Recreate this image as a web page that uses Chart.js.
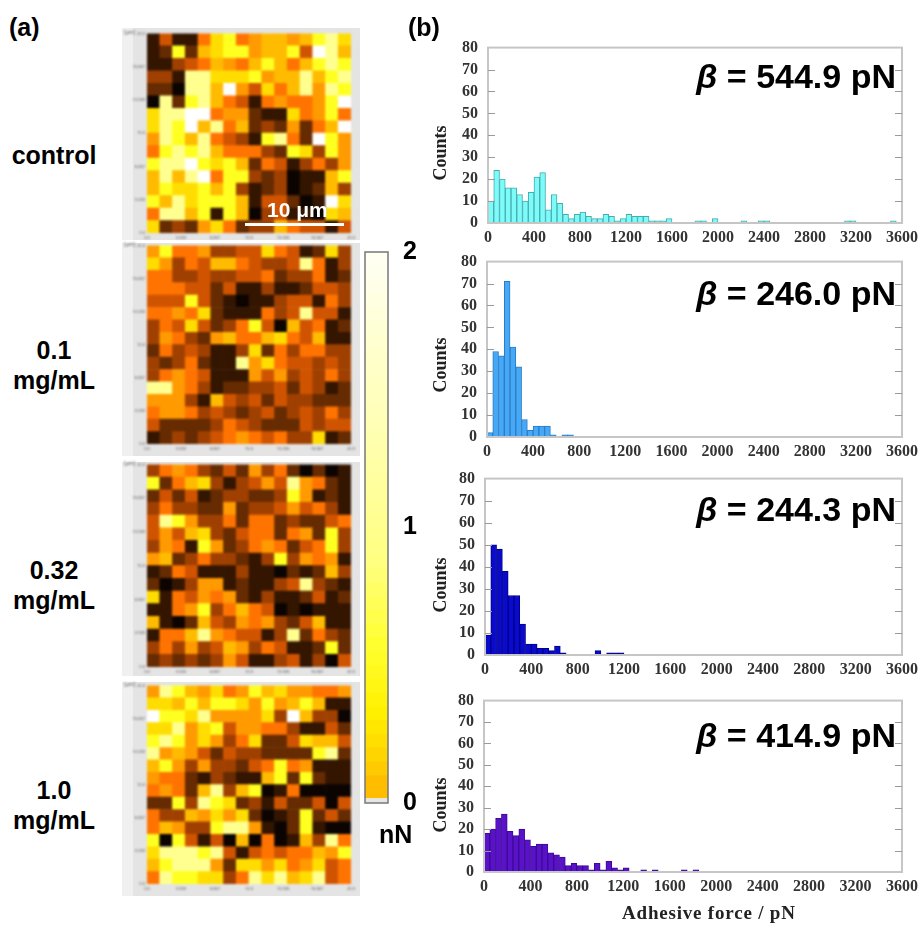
<!DOCTYPE html>
<html>
<head>
<meta charset="utf-8">
<title>Adhesive force maps</title>
<script src="https://cdn.jsdelivr.net/npm/chart.js@4"></script>
<style>
  html, body { margin: 0; background: #fff; }
  body { position: relative; width: 923px; height: 925px; overflow: hidden; filter: blur(0.45px); }
  canvas { position: absolute; }
  .heat { filter: blur(0.8px); }
  .panel { position: absolute; left: 122px; width: 238px; background: #e4e4e4; }
  .panel i { position: absolute; left: 0; top: 0; bottom: 0; width: 11px; background: #f0f0f0; }
  .txt { position: absolute; font-family: "Liberation Sans", Arial, sans-serif; font-weight: bold; color: #000; white-space: nowrap; }
  .cond { font-size: 25px; line-height: 30px; text-align: center; left: 4px; width: 100px; }
  .beta { font-size: 34px; line-height: 38px; right: 27px; }
  .beta em { font-style: italic; }
  .counts { left: 440px; font: bold 18px "Liberation Serif", serif; color: #222; transform: translate(-50%, -50%) rotate(-90deg); }
</style>
</head>
<body>
<div class="panel" style="top:28px;height:212px"><i></i></div>
<div class="panel" style="top:243px;height:213px"><i></i></div>
<div class="panel" style="top:462px;height:214px"><i></i></div>
<div class="panel" style="top:682px;height:214px"><i></i></div>

<!-- the y axis keeps one tick line height above the plot, canvases sit that much higher -->
<canvas id="mapControl" class="heat" width="238" height="211" style="left:122px;top:29px"></canvas>
<canvas id="map01" class="heat" width="238" height="215" style="left:122px;top:241px"></canvas>
<canvas id="map032" class="heat" width="238" height="216" style="left:122px;top:460px"></canvas>
<canvas id="map10" class="heat" width="238" height="215" style="left:122px;top:681px"></canvas>
<canvas id="colorBar" width="70" height="611" style="left:355px;top:222px"></canvas>
<canvas id="hist1" width="493" height="219" style="left:430px;top:28px"></canvas>
<canvas id="hist2" width="493" height="219" style="left:430px;top:242px"></canvas>
<canvas id="hist3" width="493" height="219" style="left:430px;top:459px"></canvas>
<canvas id="hist4" width="493" height="219" style="left:430px;top:681px"></canvas>

<div class="txt" style="left:9px;top:13px;font-size:25px">(a)</div>
<div class="txt" style="left:408px;top:13px;font-size:25px">(b)</div>
<div class="txt cond" style="top:140px">control</div>
<div class="txt cond" style="top:335px">0.1<br>mg/mL</div>
<div class="txt cond" style="top:555px">0.32<br>mg/mL</div>
<div class="txt cond" style="top:775px">1.0<br>mg/mL</div>
<div class="txt" style="left:245px;top:223px;width:99px;height:3px;background:#fff"></div>
<div class="txt" style="left:267px;top:198px;font-size:21px;color:#fff">10 μm</div>
<div class="txt" style="left:379px;top:820px;font-size:25px">nN</div>
<div class="txt beta" style="top:57px"><em>β</em> = 544.9 pN</div>
<div class="txt beta" style="top:274px"><em>β</em> = 246.0 pN</div>
<div class="txt beta" style="top:490px"><em>β</em> = 244.3 pN</div>
<div class="txt beta" style="top:716px"><em>β</em> = 414.9 pN</div>
<div class="txt counts" style="top:153px">Counts</div>
<div class="txt counts" style="top:365px">Counts</div>
<div class="txt counts" style="top:585px">Counts</div>
<div class="txt counts" style="top:805px">Counts</div>
<div class="txt" style="left:622px;top:902px;font:bold 19px 'Liberation Serif',serif;letter-spacing:0.8px;color:#222">Adhesive force / pN</div>

<script>
// force map levels, 0 = 0 nN ... 11 = 2 nN, rows top to bottom
const mapControlRows = [
  [1,4,1,1,5,8,9,5,6,7,7,6,7,9,10,8],
  [1,2,9,2,7,8,9,9,6,7,7,9,4,11,10,7],
  [1,1,3,4,5,7,6,5,7,9,7,5,7,9,10,9],
  [3,3,1,10,10,8,8,8,9,6,7,7,10,7,9,10],
  [2,2,0,10,10,7,11,6,4,8,5,7,10,6,10,9],
  [0,10,2,9,10,7,5,4,1,5,6,5,5,6,9,11],
  [8,10,10,11,11,5,6,6,2,1,1,8,5,6,9,5],
  [8,10,9,11,7,10,5,7,2,3,2,6,2,5,7,11],
  [6,10,9,7,10,5,4,3,1,9,10,5,2,11,9,6],
  [5,9,10,9,10,7,5,5,5,3,2,9,8,3,9,6],
  [9,10,10,11,9,8,9,7,2,5,4,1,3,5,3,6],
  [7,10,7,10,11,5,9,9,3,2,3,0,1,1,7,9],
  [7,9,8,8,9,7,9,3,1,2,3,0,1,2,7,3],
  [9,7,10,8,9,9,9,7,1,4,4,2,0,1,11,8],
  [5,10,10,7,9,1,9,7,0,3,4,1,1,0,8,7],
  [8,2,3,2,6,8,5,2,3,3,7,5,4,4,1,4],
];
const map01Rows = [
  [6,9,5,5,6,3,3,4,4,8,5,4,1,2,8,3],
  [8,6,3,5,4,7,7,5,4,3,3,4,10,5,1,3],
  [5,5,3,3,4,3,3,4,4,5,2,3,3,5,1,2],
  [5,5,5,4,4,2,4,1,1,3,1,1,2,4,4,3],
  [4,4,4,9,4,2,1,0,1,1,3,4,4,1,5,3],
  [5,5,6,5,8,2,1,1,1,5,3,4,10,4,4,1],
  [3,5,4,8,4,2,3,5,9,4,0,7,4,5,1,2],
  [3,6,5,3,2,6,7,5,5,7,8,5,4,7,1,1],
  [2,5,3,4,3,1,1,3,8,2,5,3,5,5,3,3],
  [3,2,3,5,2,1,1,10,6,8,5,4,4,3,4,3],
  [3,5,6,5,4,1,1,1,6,4,6,3,4,3,5,3],
  [10,10,6,5,3,1,2,2,3,3,4,2,4,3,1,2],
  [6,6,6,3,1,7,4,3,4,2,4,3,3,2,2,2],
  [5,6,6,5,3,4,3,2,3,4,2,3,4,3,5,3],
  [4,2,2,2,2,3,5,4,3,2,2,2,4,3,4,4],
  [1,2,3,2,3,4,5,6,5,4,5,3,3,8,1,2],
];
const map032Rows = [
  [3,5,6,5,3,2,4,2,6,3,5,2,0,2,0,1],
  [9,2,5,7,8,3,1,3,4,6,4,10,6,5,2,1],
  [2,4,2,4,1,2,3,3,2,2,3,9,6,1,2,1],
  [3,5,3,3,2,2,6,2,3,3,4,6,4,5,3,1],
  [4,10,9,6,3,3,5,2,5,5,2,3,2,2,4,5],
  [4,6,4,7,8,3,2,4,5,5,2,5,6,2,9,3],
  [3,6,5,1,9,6,2,3,5,6,5,2,4,5,9,3],
  [6,7,2,3,5,3,3,2,1,3,9,3,6,5,6,1],
  [1,2,5,4,1,1,1,3,1,1,0,2,1,2,7,3],
  [2,0,1,3,6,6,1,2,1,1,3,4,10,3,2,1],
  [8,1,5,4,6,5,6,2,1,3,1,1,2,4,1,2],
  [1,1,5,6,9,3,5,7,5,4,0,1,0,1,1,1],
  [7,1,0,2,7,4,3,6,5,6,3,2,4,7,1,1],
  [1,5,5,7,10,6,5,4,4,1,3,10,2,5,3,2],
  [3,5,3,6,3,4,7,6,3,5,4,1,1,2,9,2],
  [2,3,2,3,2,3,6,4,1,1,3,4,1,3,0,4],
];
const map10Rows = [
  [6,10,9,7,6,8,5,6,9,7,8,6,6,5,5,6],
  [8,8,7,9,7,9,9,8,6,9,6,7,9,7,1,1],
  [11,9,9,8,10,6,6,6,6,8,3,11,7,3,3,0],
  [8,8,10,6,8,9,4,6,6,5,5,3,1,1,4,2],
  [9,10,9,6,8,6,3,5,8,2,2,4,8,7,7,4],
  [10,6,7,6,4,2,4,3,3,2,2,2,2,9,10,2],
  [7,9,6,3,6,3,3,2,4,5,9,5,6,1,1,1],
  [6,5,5,2,1,3,2,1,1,7,9,2,9,2,1,1],
  [5,6,5,2,7,10,3,7,9,0,1,5,0,0,0,0],
  [2,2,9,3,10,9,8,2,3,1,4,2,2,4,0,4],
  [5,3,3,7,6,8,6,8,2,0,1,2,9,2,4,2],
  [5,7,6,3,3,9,10,10,6,1,0,2,9,1,0,0],
  [9,0,9,4,1,4,0,7,0,5,0,1,7,3,10,5],
  [8,10,10,10,9,10,4,1,4,5,4,5,5,7,6,9],
  [7,9,10,10,10,6,2,8,8,6,8,5,6,8,4,5],
  [5,10,9,9,8,8,3,5,10,8,10,7,8,10,4,5],
];
const levelColors = ["#0c0400","#331500","#662b00","#a04000","#d05400","#ff7300","#ff9a00","#ffbb00","#ffdd00","#ffff20","#ffff90","#ffffff"];
const mapTicks = [0, 3.333, 6.667, 10, 13.333, 16.667, 20];
const mapTickLabels = ["0.0", "3.333", "6.667", "10.0", "13.333", "16.667", "20.0"];

// adhesive force histograms, counts per 50 pN bin starting at 0
const binWidth = 50;
const countsControl = [10,24,20,16,16,13,10,14,21,23,6,13,9,4,2,4,5,3,2,2,4,3,1,2,4,3,3,3,1,1,1,2,0,0,0,0,1,1,0,2,0,0,0,0,1,0,0,1,1,0,0,0,0,0,0,0,0,0,0,0,0,0,1,1,0,0,0,0,0,0,1,0];
const counts01 = [2,39,37,71,41,32,8,3,5,5,5,1,0,1,1];
const counts032 = [9,50,48,38,27,27,14,5,5,3,3,2,4,1,0,0,0,0,0,2,0,1,1,1];
const counts10 = [18,20,25,27,19,17,20,15,12,13,13,9,8,7,3,4,3,3,1,4,1,5,2,1,2,0,0,1,0,1,0,0,0,0,1,0,1];

const barStops = [[0,"#ffb000"],[0.12,"#ffd000"],[0.3,"#fff000"],[0.55,"#ffff30"],[0.85,"#ffff80"],[1.3,"#ffffb0"],[1.65,"#ffffd0"],[2,"#fffff8"]];
const bandSize = 0.05;

Chart.defaults.animation = false;
Chart.defaults.responsive = false;
Chart.defaults.plugins.legend.display = false;
Chart.defaults.plugins.tooltip.enabled = false;

const cellSize = 20 / 16;

const makeMap = (id, rows, box) => {
  const datasets = rows.slice().reverse().map((row) => ({
    data: row.map((_, c) => ({ x: (c + 0.5) * cellSize, y: cellSize })),
    backgroundColor: row.map((level) => levelColors[level]),
    barPercentage: 1,
    categoryPercentage: 1,
    borderWidth: 0,
  }));
  const tickOpts = {
    autoSkip: false,
    maxRotation: 0,
    padding: 2,
    font: { size: 4, family: "Noto Sans" },
    color: "#555",
  };
  new Chart(document.getElementById(id), {
    type: "bar",
    data: { datasets },
    options: {
      layout: { padding: { right: box.right } },
      scales: {
        x: {
          type: "linear", stacked: true, offset: false, min: 0, max: 20,
          grid: { display: false, tickLength: 0 }, border: { display: false },
          afterBuildTicks: (s) => { s.ticks = mapTicks.map((value) => ({ value })); },
          afterFit: (s) => { s.height = box.bottom; },
          ticks: { ...tickOpts, callback: (v) => mapTickLabels[mapTicks.indexOf(v)] },
        },
        y: {
          type: "linear", stacked: true, min: 0, max: 20,
          grid: { display: false, tickLength: 0 }, border: { display: false },
          afterBuildTicks: (s) => { s.ticks = mapTicks.map((value) => ({ value })); },
          afterFit: (s) => { s.width = box.left; },
          ticks: { ...tickOpts, callback: (v) => mapTickLabels[mapTicks.indexOf(v)] },
        },
      },
    },
    plugins: [{
      id: "unitLabel",
      afterDraw(chart) {
        const ctx = chart.ctx;
        ctx.save();
        ctx.font = "5px 'Noto Sans'";
        ctx.fillStyle = "#555";
        ctx.fillText("[μm]", 2, chart.chartArea.top + 1);
        ctx.restore();
      },
    }],
  });
};

makeMap("mapControl", mapControlRows, { left: 25, right: 9, bottom: 7 });
makeMap("map01", map01Rows, { left: 25, right: 9, bottom: 12 });
makeMap("map032", map032Rows, { left: 25, right: 9, bottom: 9 });
makeMap("map10", map10Rows, { left: 25, right: 9, bottom: 12 });

// inward ticks on both sides and the grey frame
const histFrame = {
  id: "histFrame",
  afterDatasetsDraw(chart) {
    const { ctx, chartArea: a, scales } = chart;
    ctx.save();
    ctx.strokeStyle = "#c6c6c6";
    ctx.lineWidth = 2;
    ctx.strokeRect(a.left, a.top, a.right - a.left, a.bottom - a.top);
    ctx.strokeStyle = "#9a9a9a";
    ctx.lineWidth = 1;
    scales.y.ticks.forEach((t) => {
      const y = Math.round(scales.y.getPixelForValue(t.value)) + 0.5;
      if (t.value === 0 || t.value === 80) return;
      ctx.beginPath();
      ctx.moveTo(a.left, y);
      ctx.lineTo(a.left + 7, y);
      ctx.moveTo(a.right, y);
      ctx.lineTo(a.right - 7, y);
      ctx.stroke();
    });
    ctx.restore();
  },
};

const tickFont = { family: "Liberation Serif", weight: "bold", size: 16 };

const makeHist = (id, counts, fill, edge, box) => {
  new Chart(document.getElementById(id), {
    type: "bar",
    data: {
      datasets: [{
        data: counts.map((y, i) => ({ x: (i + 0.5) * binWidth, y: y || null })),
        backgroundColor: fill,
        borderColor: edge,
        borderWidth: 1,
        barPercentage: 1,
        categoryPercentage: 1,
      }],
    },
    options: {
      layout: { padding: { right: 493 - box.right } },
      scales: {
        x: {
          type: "linear", offset: false, min: 0, max: 3600,
          grid: { display: false, tickLength: 0 }, border: { display: false },
          afterFit: (s) => { s.height = box.bottom; },
          ticks: {
            stepSize: 400, autoSkip: false, maxRotation: 0, padding: 5,
            font: tickFont, color: "#333",
            callback: (v) => String(v),
          },
        },
        y: {
          min: 0, max: 80,
          grid: { display: false, tickLength: 0 }, border: { display: false },
          afterFit: (s) => { s.width = box.left; },
          ticks: { stepSize: 10, autoSkip: false, padding: 10, font: tickFont, color: "#333" },
        },
      },
    },
    plugins: [histFrame],
  });
};

makeHist("hist1", countsControl, "#7dfbfa", "#46adad", { left: 58, right: 477, bottom: 24 });
makeHist("hist2", counts01, "#45a9f7", "#2b7cc4", { left: 57, right: 477, bottom: 24 });
makeHist("hist3", counts032, "#0a0acb", "#00008c", { left: 55, right: 476, bottom: 23 });
makeHist("hist4", counts10, "#5a12c8", "#3c0a96", { left: 54, right: 476, bottom: 28 });

// colour scale: a pale strip at the bottom, then the yellow to white bands
const hexToRgb = (h) => [1, 3, 5].map((i) => parseInt(h.slice(i, i + 2), 16));
const bandColor = (v) => {
  let i = 0;
  while (i < barStops.length - 2 && v > barStops[i + 1][0]) i++;
  const [v0, c0] = barStops[i];
  const [v1, c1] = barStops[i + 1];
  const t = Math.min(1, (v - v0) / (v1 - v0));
  const a = hexToRgb(c0), b = hexToRgb(c1);
  return `rgb(${a.map((x, k) => Math.round(x + (b[k] - x) * t)).join(",")})`;
};
const bandCount = Math.round(2 / bandSize);
const bands = Array.from({ length: bandCount }, (_, i) => i * bandSize);

new Chart(document.getElementById("colorBar"), {
  type: "bar",
  data: {
    labels: ["nN"],
    datasets: bands.map((v, i) => ({
      data: [i === 0 ? bandSize / 3 : i === 1 ? bandSize * 5 / 3 : bandSize],
      backgroundColor: i === 0 ? "#e6e6e6" : bandColor(v),
      barPercentage: 1,
      categoryPercentage: 1,
      borderWidth: 0,
    })),
  },
  options: {
    layout: { padding: { left: 10 } },
    scales: {
      x: { display: false, stacked: true },
      y: {
        position: "right", stacked: true, min: 0, max: 2,
        grid: { display: false, tickLength: 0 }, border: { display: false },
        afterFit: (s) => { s.width = 37; },
        ticks: {
          stepSize: 1, padding: 15,
          font: { family: "Liberation Sans", weight: "bold", size: 25 }, color: "#000",
        },
      },
    },
  },
  plugins: [{
    id: "barFrame",
    afterDatasetsDraw(chart) {
      const { ctx, chartArea: a } = chart;
      ctx.save();
      ctx.strokeStyle = "#777";
      ctx.lineWidth = 1.5;
      ctx.strokeRect(a.left, a.top, a.right - a.left, a.bottom - a.top);
      ctx.restore();
    },
  }],
});
</script>
</body>
</html>
